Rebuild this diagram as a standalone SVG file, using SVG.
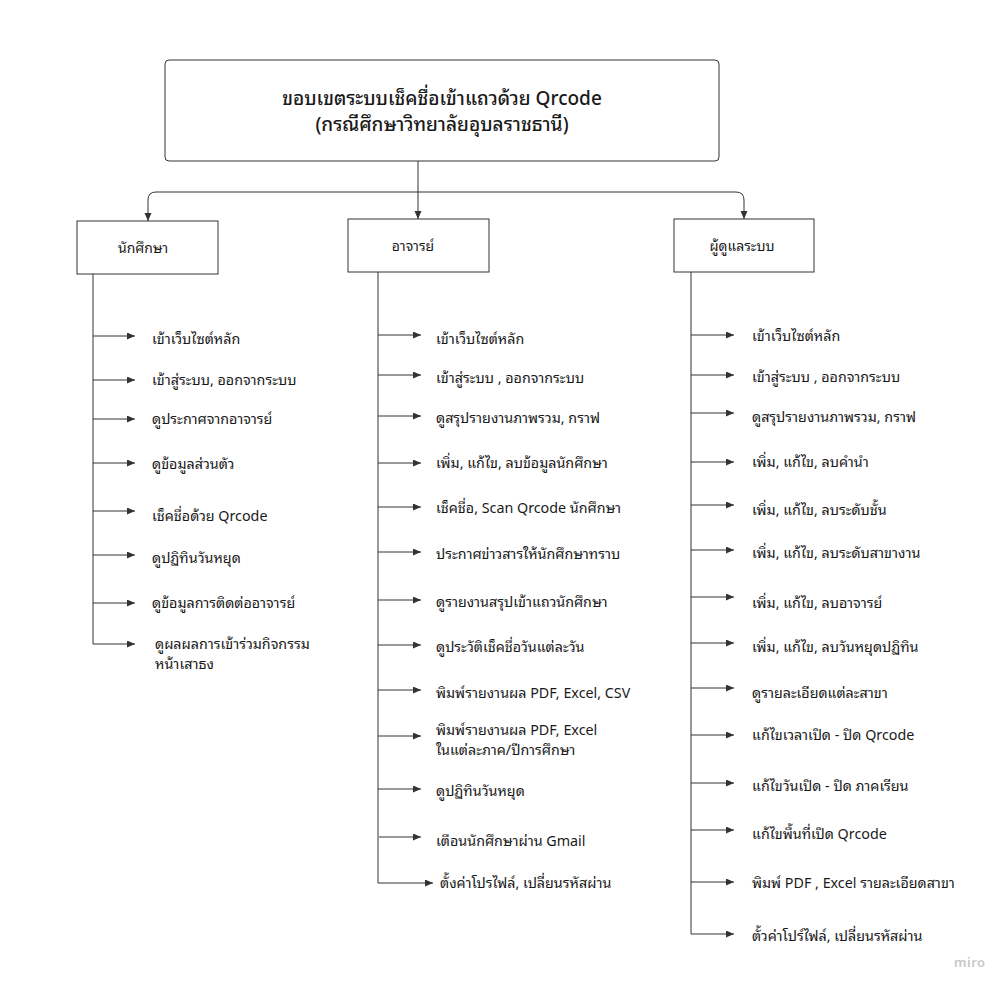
<svg xmlns="http://www.w3.org/2000/svg" width="1008" height="991" viewBox="0 0 1008 991">
<defs>
<marker id="ah" markerUnits="userSpaceOnUse" markerWidth="9" markerHeight="8" refX="8" refY="3.5" orient="auto">
<path d="M0,0 L8,3.5 L0,7 z" fill="#333"/>
</marker>
<style>
text{font-family:"Noto Sans","Noto Sans Thai Looped","Noto Serif Thai","Leelawadee UI",Tahoma,Loma,Garuda,"TH Sarabun New","Noto Sans Thai",sans-serif;fill:#1a1a1a;}
.t{font-size:19px;font-weight:500;text-anchor:middle;dominant-baseline:central;}
.h{font-size:14px;text-anchor:middle;dominant-baseline:central;}
.i{font-size:14.3px;dominant-baseline:central;}
.box{fill:#fff;stroke:#333;stroke-width:1;}
.c{fill:none;stroke:#333;stroke-width:1;}
.a{fill:none;stroke:#333;stroke-width:1;marker-end:url(#ah);}
</style>
</defs>
<rect width="1008" height="991" fill="#fff"/>
<g id="connectors">
<path class="a" d="M418,161 V219"/>
<path class="a" d="M418,192 H156 Q148,192 148,200 V221"/>
<path class="a" d="M418,192 H736 Q744,192 744,200 V219"/>
<path class="c" d="M93,274 V644"/>
<path class="a" d="M93,336 H135"/>
<path class="a" d="M93,380 H135"/>
<path class="a" d="M93,419 H135"/>
<path class="a" d="M93,463 H135"/>
<path class="a" d="M93,511 H135"/>
<path class="a" d="M93,555 H135"/>
<path class="a" d="M93,603 H135"/>
<path class="a" d="M93,644 H135"/>
<path class="c" d="M378,272 V883"/>
<path class="a" d="M378,335 H421"/>
<path class="a" d="M378,375 H421"/>
<path class="a" d="M378,416 H421"/>
<path class="a" d="M378,463 H421"/>
<path class="a" d="M378,507 H421"/>
<path class="a" d="M378,552 H421"/>
<path class="a" d="M378,600 H421"/>
<path class="a" d="M378,645 H421"/>
<path class="a" d="M378,690 H421"/>
<path class="a" d="M378,736 H421"/>
<path class="a" d="M378,789 H421"/>
<path class="a" d="M379,837 H421"/>
<path class="a" d="M378,883 H433"/>
<path class="c" d="M691,272 V934"/>
<path class="a" d="M691,335 H734"/>
<path class="a" d="M691,375 H734"/>
<path class="a" d="M691,413 H734"/>
<path class="a" d="M691,462 H734"/>
<path class="a" d="M691,505 H734"/>
<path class="a" d="M691,550 H734"/>
<path class="a" d="M691,597 H734"/>
<path class="a" d="M691,643 H734"/>
<path class="a" d="M691,688 H734"/>
<path class="a" d="M691,735 H734"/>
<path class="a" d="M691,783 H734"/>
<path class="a" d="M691,830 H734"/>
<path class="a" d="M691,882 H734"/>
<path class="a" d="M691,934 H734"/>
</g>
<g id="title">
<rect class="box" x="165" y="60" width="554" height="101" rx="4"/>
<text class="t" x="442" y="98">ขอบเขตระบบเช็คชื่อเข้าแถวด้วย Qrcode</text>
<text class="t" x="442" y="124">(กรณีศึกษาวิทยาลัยอุบลราชธานี)</text>
</g>
<g id="student">
<rect class="box" x="77" y="221" width="141" height="53"/>
<text class="h" x="143" y="247">นักศึกษา</text>
</g>
<g id="teacher">
<rect class="box" x="348" y="219" width="141" height="53"/>
<text class="h" x="413" y="245">อาจารย์</text>
</g>
<g id="admin">
<rect class="box" x="674" y="219" width="140" height="53"/>
<text class="h" x="742" y="245">ผู้ดูแลระบบ</text>
</g>
<g id="student-items">
<text class="i" x="152" y="338">เข้าเว็บไซต์หลัก</text>
<text class="i" x="152" y="379">เข้าสู่ระบบ, ออกจากระบบ</text>
<text class="i" x="152" y="418">ดูประกาศจากอาจารย์</text>
<text class="i" x="152" y="463">ดูข้อมูลส่วนตัว</text>
<text class="i" x="152" y="515">เช็คชื่อด้วย Qrcode</text>
<text class="i" x="152" y="557">ดูปฏิทินวันหยุด</text>
<text class="i" x="152" y="602">ดูข้อมูลการติดต่ออาจารย์</text>
<text class="i" x="155" y="643">ดูผลผลการเข้าร่วมกิจกรรม</text>
<text class="i" x="155" y="663">หน้าเสาธง</text>
</g>
<g id="teacher-items">
<text class="i" x="436" y="338">เข้าเว็บไซต์หลัก</text>
<text class="i" x="436" y="377">เข้าสู่ระบบ , ออกจากระบบ</text>
<text class="i" x="436" y="417">ดูสรุปรายงานภาพรวม, กราฟ</text>
<text class="i" x="436" y="462">เพิ่ม, แก้ไข, ลบข้อมูลนักศึกษา</text>
<text class="i" x="436" y="507">เช็คชื่อ, Scan Qrcode นักศึกษา</text>
<text class="i" x="436" y="553">ประกาศข่าวสารให้นักศึกษาทราบ</text>
<text class="i" x="436" y="601">ดูรายงานสรุปเข้าแถวนักศึกษา</text>
<text class="i" x="436" y="646">ดูประวัติเช็คชื่อวันแต่ละวัน</text>
<text class="i" x="436" y="692">พิมพ์รายงานผล PDF, Excel, CSV</text>
<text class="i" x="436" y="729">พิมพ์รายงานผล PDF, Excel</text>
<text class="i" x="436" y="749">ในแต่ละภาค/ปีการศึกษา</text>
<text class="i" x="436" y="790">ดูปฏิทินวันหยุด</text>
<text class="i" x="436" y="840">เตือนนักศึกษาผ่าน Gmail</text>
<text class="i" x="440" y="882">ตั้งค่าโปรไฟล์, เปลี่ยนรหัสผ่าน</text>
</g>
<g id="admin-items">
<text class="i" x="752" y="335">เข้าเว็บไซต์หลัก</text>
<text class="i" x="752" y="376">เข้าสู่ระบบ , ออกจากระบบ</text>
<text class="i" x="752" y="416">ดูสรุปรายงานภาพรวม, กราฟ</text>
<text class="i" x="752" y="461">เพิ่ม, แก้ไข, ลบคำนำ</text>
<text class="i" x="752" y="509">เพิ่ม, แก้ไข, ลบระดับชั้น</text>
<text class="i" x="752" y="552">เพิ่ม, แก้ไข, ลบระดับสาขางาน</text>
<text class="i" x="752" y="602">เพิ่ม, แก้ไข, ลบอาจารย์</text>
<text class="i" x="752" y="646">เพิ่ม, แก้ไข, ลบวันหยุดปฏิทิน</text>
<text class="i" x="752" y="692">ดูรายละเอียดแต่ละสาขา</text>
<text class="i" x="752" y="734">แก้ไขเวลาเปิด - ปิด Qrcode</text>
<text class="i" x="752" y="785">แก้ไขวันเปิด - ปิด ภาคเรียน</text>
<text class="i" x="752" y="833">แก้ไขพื้นที่เปิด Qrcode</text>
<text class="i" x="752" y="882">พิมพ์ PDF , Excel รายละเอียดสาขา</text>
<text class="i" x="752" y="935">ตั้วค่าโปร์ไฟล์, เปลี่ยนรหัสผ่าน</text>
</g>
<text x="954" y="967" style="font-size:13px;fill:#c8c8c8;font-weight:600;letter-spacing:0.5px">miro</text>
</svg>
